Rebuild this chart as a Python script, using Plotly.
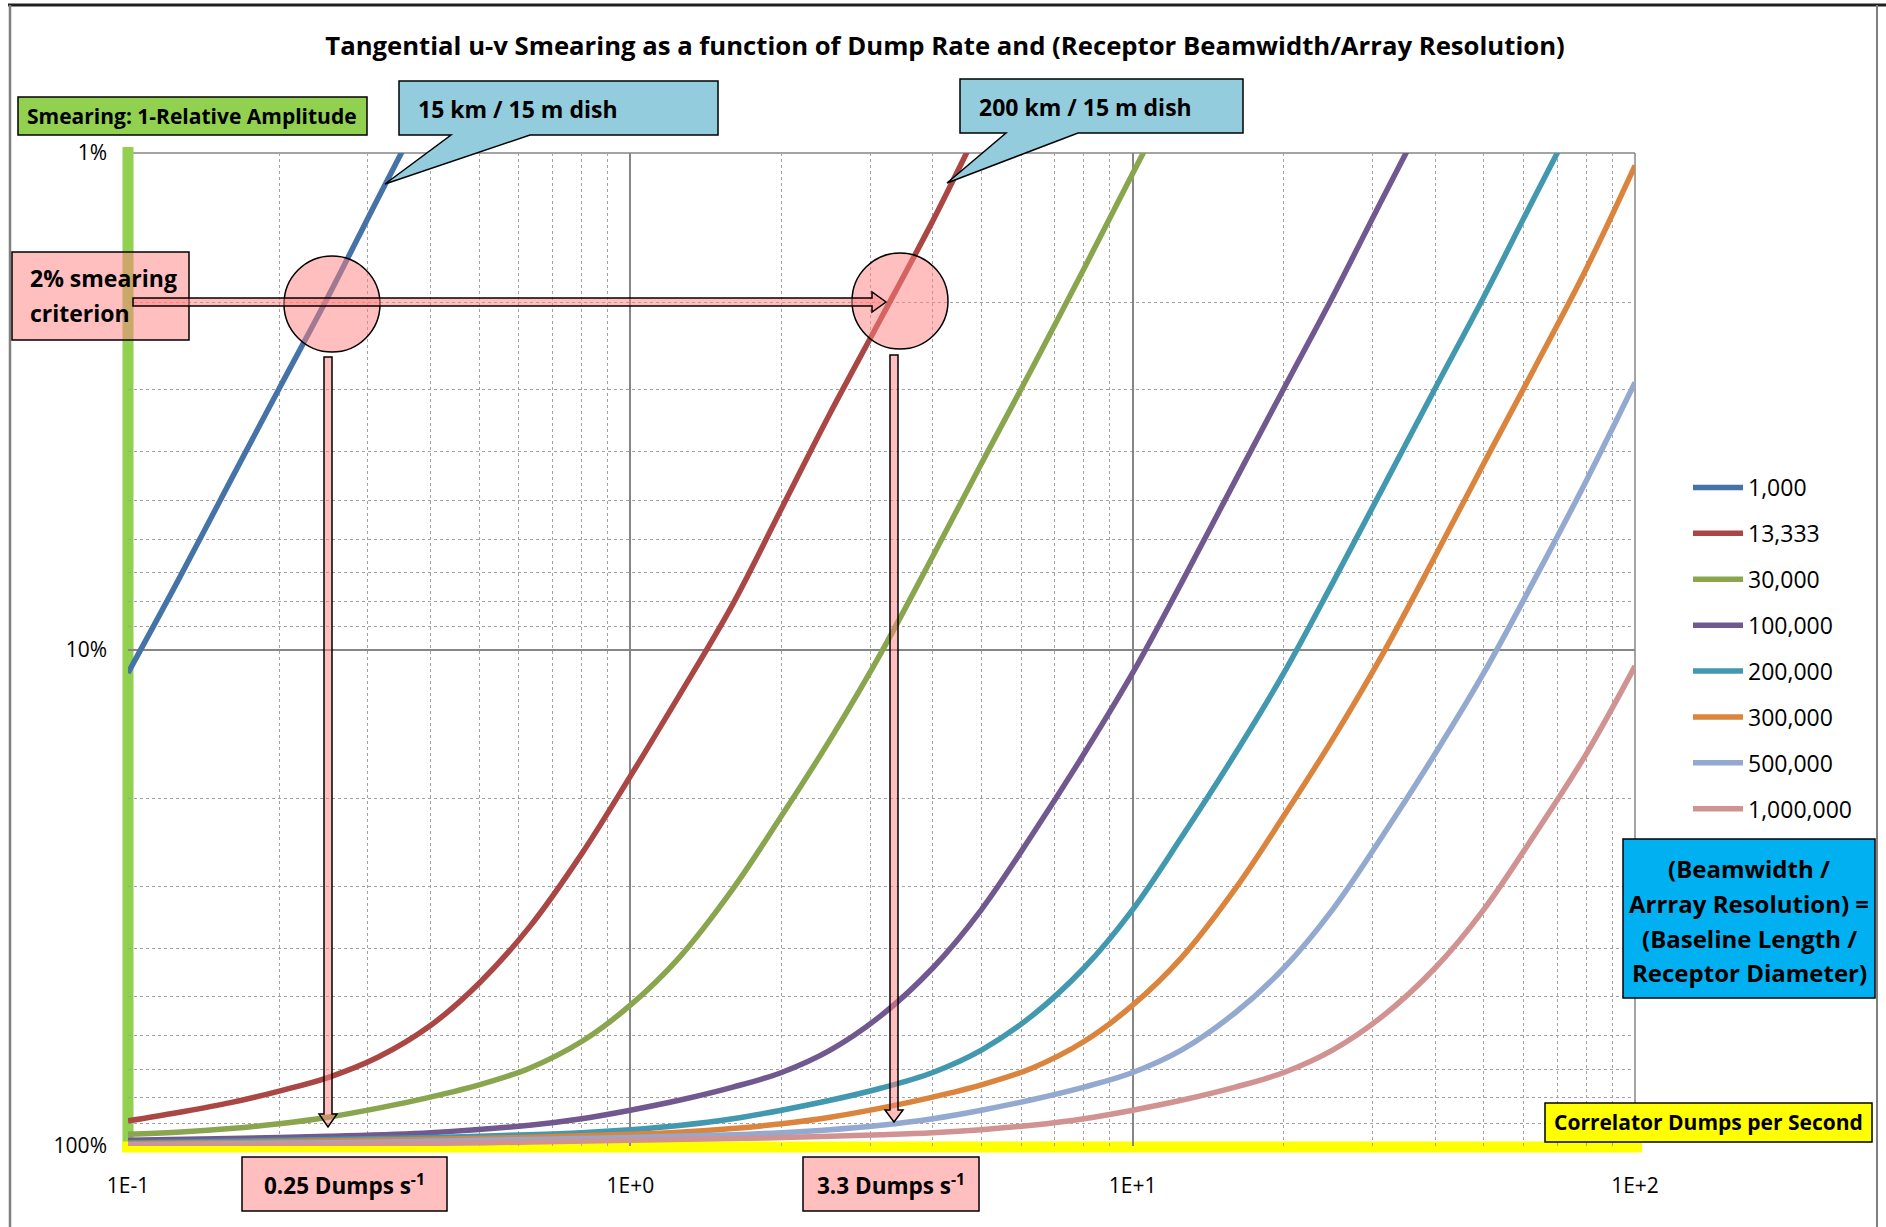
import plotly.graph_objects as go

# ---- data: smearing (1 - relative amplitude) vs correlator dump rate ----
ratio_labels = ["1,000", "13,333", "30,000", "100,000", "200,000", "300,000", "500,000", "1,000,000"]
line_colors = ["#4572A7", "#AA4643", "#89A54E", "#71588F", "#4198AF", "#DB843D", "#93A9CF", "#D19392"]

dumps_1k = [0.1, 0.125, 0.16, 0.2, 0.25, 0.315, 0.4]
smear_1k = [0.1115, 0.0735, 0.0457, 0.0298, 0.0195, 0.0123, 0.0077]

dumps_13k = [0.1, 0.125, 0.16, 0.2, 0.25, 0.315, 0.4, 0.5, 0.63, 0.8, 1, 1.25, 1.6, 2, 2.5, 3.15, 4, 5, 6.3]
smear_13k = [0.890, 0.857, 0.818, 0.775, 0.728, 0.662, 0.572, 0.470, 0.362, 0.258, 0.180, 0.124, 0.081,
             0.052, 0.0334, 0.0216, 0.0137, 0.0087, 0.0055]

dumps_30k = [0.1, 0.125, 0.16, 0.2, 0.25, 0.315, 0.4, 0.5, 0.63, 0.8, 1, 1.25, 1.6, 2, 2.5, 3.15, 4, 5,
             6.3, 8, 10, 12.5]
smear_30k = [0.947, 0.938, 0.922, 0.902, 0.875, 0.839, 0.797, 0.753, 0.697, 0.616, 0.5205, 0.4178, 0.3035,
             0.2163, 0.1517, 0.1019, 0.0649, 0.0422, 0.0272, 0.0171, 0.0110, 0.0071]

dumps_100k = [0.1, 0.16, 0.25, 0.4, 0.63, 0.8, 1, 1.25, 1.6, 2, 2.5, 3.15, 4, 5, 6.3, 8, 10, 12.5, 16, 20,
              25, 31.5, 40]
smear_100k = [0.974, 0.966, 0.956, 0.940, 0.908, 0.881, 0.847, 0.809, 0.761, 0.711, 0.641, 0.547, 0.438,
              0.334, 0.2366, 0.1622, 0.1115, 0.0735, 0.0457, 0.0298, 0.0195, 0.0123, 0.0077]

dumps_200k = [0.1, 0.16, 0.25, 0.4, 0.63, 0.8, 1, 1.25, 1.6, 2, 2.5, 3.15, 4, 5, 6.3, 8, 10, 12.5, 16, 20,
              25, 31.5, 40, 50, 63, 80]
smear_200k = [0.985, 0.978, 0.970, 0.961, 0.949, 0.940, 0.927, 0.909, 0.881, 0.847, 0.809, 0.765, 0.711,
              0.641, 0.547, 0.438, 0.334, 0.2392, 0.1622, 0.1115, 0.0735, 0.0472, 0.0298, 0.0195, 0.0123,
              0.0077]

dumps_300k = [0.1, 0.16, 0.25, 0.4, 0.63, 1, 1.25, 1.6, 2, 2.5, 3.15, 4, 5, 6.3, 8, 10, 12.5, 16, 20, 25,
              31.5, 40, 50, 63, 80, 100]
smear_300k = [0.990, 0.984, 0.977, 0.969, 0.960, 0.947, 0.938, 0.922, 0.902, 0.875, 0.839, 0.797, 0.753,
              0.697, 0.616, 0.5205, 0.4178, 0.3035, 0.2163, 0.1517, 0.1019, 0.0649, 0.0422, 0.0272, 0.0171,
              0.0106]

dumps_500k = [0.1, 0.16, 0.25, 0.4, 0.63, 1, 1.6, 2, 2.5, 3.15, 4, 5, 6.3, 8, 10, 12.5, 16, 20, 25, 31.5,
              40, 50, 63, 80, 100]
smear_500k = [0.994, 0.990, 0.985, 0.978, 0.970, 0.961, 0.949, 0.940, 0.927, 0.908, 0.881, 0.847, 0.807,
              0.761, 0.711, 0.641, 0.539, 0.438, 0.334, 0.2366, 0.1622, 0.1115, 0.0725, 0.0457, 0.029]

dumps_1m = [0.1, 0.16, 0.25, 0.4, 0.63, 1, 1.6, 2.5, 3.15, 4, 5, 6.3, 8, 10, 12.5, 16, 20, 25, 31.5, 40,
            50, 63, 80, 100]
smear_1m = [0.997, 0.996, 0.992, 0.988, 0.982, 0.974, 0.966, 0.956, 0.949, 0.940, 0.927, 0.908, 0.881,
            0.847, 0.809, 0.761, 0.711, 0.641, 0.547, 0.438, 0.334, 0.2366, 0.1622, 0.108]

series_x = [dumps_1k, dumps_13k, dumps_30k, dumps_100k, dumps_200k, dumps_300k, dumps_500k, dumps_1m]
series_y = [smear_1k, smear_13k, smear_30k, smear_100k, smear_200k, smear_300k, smear_500k, smear_1m]

x_tick_vals = [0.1, 1, 10, 100]
x_tick_text = ["1E-1", "1E+0", "1E+1", "1E+2"]
y_tick_vals = [0.01, 0.1, 1]
y_tick_text = ["1%", "10%", "100%"]

# ---- page geometry (pixels) ----
FIG_W, FIG_H = 1886, 1227
PLOT_L, PLOT_R, PLOT_T, PLOT_B = 128, 1635, 153, 1146
FONT = "Open Sans"


def px(x):
    return (x - PLOT_L) / (PLOT_R - PLOT_L)


def py(y):
    return (PLOT_B - y) / (PLOT_B - PLOT_T)


def poly(points):
    return "M " + " L ".join(f"{px(x):.5f},{py(y):.5f}" for x, y in points) + " Z"


PINK = "rgba(255,128,128,0.5)"
CALLOUT = "#93CDDD"

fig = go.Figure()
for i, (name, xs, ys, col) in enumerate(zip(ratio_labels, series_x, series_y, line_colors)):
    fig.add_trace(go.Scatter(
        x=xs, y=ys, name=name, mode="lines", legendgroup=str(i),
        line=dict(color=col, width=5.5, shape="spline", smoothing=1.0),
    ))

shapes = []
# plot frame: grey top/right, green y-axis bar and yellow x-axis bar
shapes.append(dict(type="line", xref="paper", yref="paper", x0=0, x1=1, y0=1, y1=1,
                   line=dict(color="#868686", width=1.5), layer="between"))
shapes.append(dict(type="line", xref="paper", yref="paper", x0=1, x1=1, y0=0, y1=1,
                   line=dict(color="#868686", width=1.5), layer="between"))
shapes.append(dict(type="line", xref="paper", yref="paper", x0=0, x1=0, y0=py(1147), y1=py(147),
                   line=dict(color="#92D050", width=11), layer="between"))
shapes.append(dict(type="line", xref="paper", yref="paper", x0=px(122), x1=px(1642), y0=py(1147), y1=py(1147),
                   line=dict(color="#FFFF00", width=11), layer="between"))

# outer chart border
shapes.append(dict(type="line", xref="paper", yref="paper", x0=px(8), x1=px(1886), y0=py(5), y1=py(5),
                   line=dict(color="#202020", width=3), layer="above"))
shapes.append(dict(type="line", xref="paper", yref="paper", x0=px(10), x1=px(10), y0=py(5), y1=py(1227),
                   line=dict(color="#808080", width=2.5), layer="above"))
shapes.append(dict(type="line", xref="paper", yref="paper", x0=px(1877), x1=px(1877), y0=py(5), y1=py(1227),
                   line=dict(color="#808080", width=2), layer="above"))


def rect(x0, y0, x1, y1, fill, lw=1.5):
    return dict(type="rect", xref="paper", yref="paper", x0=px(x0), x1=px(x1), y0=py(y1), y1=py(y0),
                fillcolor=fill, line=dict(color="black", width=lw), layer="above")


def outline(points, fill, lw=1.5):
    return dict(type="path", xref="paper", yref="paper", path=poly(points),
                fillcolor=fill, line=dict(color="black", width=lw), layer="above")


# axis title box
shapes.append(rect(18, 97, 367, 135, "#92D050"))
# speech-bubble callouts
shapes.append(outline([(399, 81), (718, 81), (718, 135), (530, 135), (385, 184), (451, 135), (399, 135)], CALLOUT))
shapes.append(outline([(960, 79), (1243, 79), (1243, 133), (1078, 133), (947, 183), (1006, 133), (960, 133)], CALLOUT))
# 2% criterion markers
shapes.append(dict(type="circle", xref="paper", yref="paper", x0=px(284), x1=px(380), y0=py(352), y1=py(256),
                   fillcolor=PINK, line=dict(color="black", width=1.5), layer="above"))
shapes.append(dict(type="circle", xref="paper", yref="paper", x0=px(852), x1=px(948), y0=py(349), y1=py(253),
                   fillcolor=PINK, line=dict(color="black", width=1.5), layer="above"))
shapes.append(rect(12, 252, 189, 340, PINK))
shapes.append(outline([(133, 298), (872, 298), (872, 292), (886, 302), (872, 312), (872, 306), (133, 306)], PINK))
shapes.append(outline([(324, 357), (332, 357), (332, 1114), (337, 1114), (328, 1127), (319, 1114), (324, 1114)], PINK))
shapes.append(outline([(890, 355), (898, 355), (898, 1110), (903, 1110), (894, 1122), (885, 1110), (890, 1110)], PINK))
# dump-rate result boxes
shapes.append(rect(242, 1157, 447, 1211, PINK))
shapes.append(rect(803, 1157, 979, 1211, PINK))
# x-axis title box and ratio definition box
shapes.append(rect(1545, 1103, 1872, 1142, "#FFFF00"))
shapes.append(rect(1623, 839, 1875, 998, "#00B0F0"))


def label(text, x, y, size, xanchor="center", align="center"):
    return dict(text=text, x=px(x), y=py(y), xref="paper", yref="paper", showarrow=False,
                xanchor=xanchor, yanchor="middle", align=align,
                font=dict(family=FONT, size=size, color="black"))


annotations = [
    label("<b>Smearing: 1-Relative Amplitude</b>", 192, 116, 21),
    label("<b>15 km / 15 m dish</b>", 416, 109, 23, xanchor="left"),
    label("<b>200 km / 15 m dish</b>", 977, 107, 23, xanchor="left"),
    label("<b>2% smearing</b>", 28, 278, 23, xanchor="left"),
    label("<b>criterion</b>", 28, 313, 23, xanchor="left"),
    label("<b>0.25 Dumps s<sup>-1</sup></b>", 344, 1184, 22.5),
    label("<b>3.3 Dumps s<sup>-1</sup></b>", 891, 1184, 22.5),
    label("<b>Correlator Dumps per Second</b>", 1708, 1122, 21),
    label("<b>(Beamwidth /</b>", 1749, 868, 24),
    label("<b>Arrray Resolution) =</b>", 1749, 903, 24),
    label("<b>(Baseline Length /</b>", 1749, 938, 24),
    label("<b>Receptor Diameter)</b>", 1749, 972, 24),
]

x_minor = [m * 10 ** e for e in (-1, 0, 1) for m in range(2, 10)]
y_minor = [m * 10 ** e for e in (-2, -1) for m in range(2, 10)]

fig.update_layout(
    width=FIG_W, height=FIG_H,
    margin=dict(l=PLOT_L, r=FIG_W - PLOT_R, t=PLOT_T, b=FIG_H - PLOT_B, autoexpand=False),
    paper_bgcolor="white", plot_bgcolor="white",
    title=dict(text="<b>Tangential u-v Smearing as a function of Dump Rate and (Receptor Beamwidth/Array Resolution)</b>",
               x=945 / FIG_W, y=1 - 46 / FIG_H, xanchor="center", yanchor="middle",
               font=dict(family=FONT, size=25.7, color="black")),
    xaxis=dict(type="log", range=[-1, 2], tickmode="array", tickvals=x_tick_vals, ticktext=x_tick_text,
               showline=False, zeroline=False, ticks="", ticklabelstandoff=25,
               showgrid=True, gridcolor="#868686", gridwidth=1.5,
               minor=dict(tickmode="array", tickvals=x_minor, showgrid=True, gridcolor="#A2A2A2",
                          griddash="dot", gridwidth=1),
               tickfont=dict(family=FONT, size=21, color="black")),
    yaxis=dict(type="log", range=[0, -2], tickmode="array", tickvals=y_tick_vals, ticktext=y_tick_text,
               showline=False, zeroline=False, ticks="", ticklabelstandoff=20,
               showgrid=True, gridcolor="#868686", gridwidth=1.5,
               minor=dict(tickmode="array", tickvals=y_minor, showgrid=True, gridcolor="#A2A2A2",
                          griddash="dot", gridwidth=1),
               tickfont=dict(family=FONT, size=21, color="black")),
    legend=dict(x=px(1688), y=py(466), xanchor="left", yanchor="top",
                font=dict(family=FONT, size=23, color="black"),
                bgcolor="rgba(0,0,0,0)", tracegroupgap=13, itemwidth=50),
    shapes=shapes,
    annotations=annotations,
    showlegend=True,
)

fig.write_html("out.html")
